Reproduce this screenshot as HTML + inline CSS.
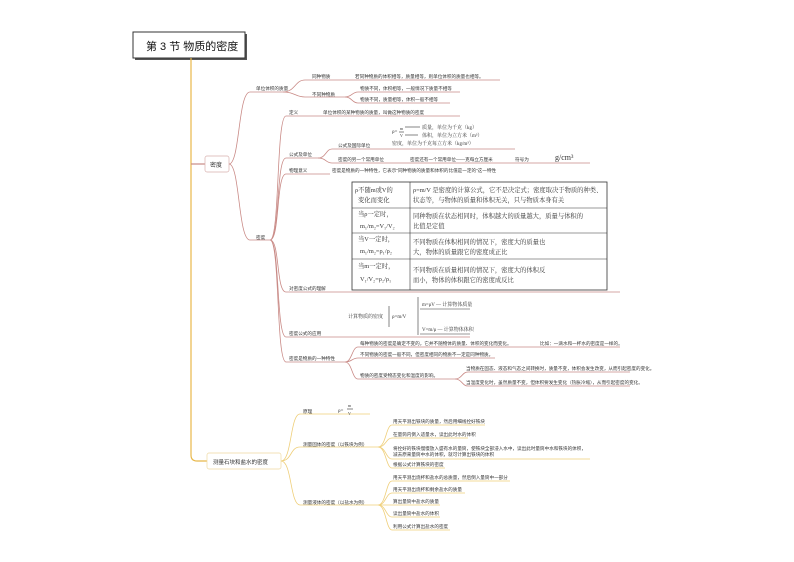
<!DOCTYPE html>
<html><head><meta charset="utf-8"><style>
html,body{margin:0;padding:0;background:#fff;}
svg{display:block;font-family:"Liberation Sans","Noto Sans CJK SC",sans-serif;}
.t{font-size:4.6px;fill:#333;}
.s{font-size:5px;fill:#333;}
.r{stroke:#c98a86;fill:none;stroke-width:0.8;}
.y{stroke:#efcf7a;fill:none;stroke-width:0.8;}
.k{stroke:#333;fill:none;stroke-width:0.6;}
.h{font-family:"Liberation Serif","Noto Serif CJK SC",serif;font-size:5px;fill:#333;}
.g{font-family:"Liberation Serif","Noto Serif CJK SC",serif;font-size:6.3px;fill:#333;}
</style></head><body>
<svg width="794" height="562" viewBox="0 0 794 562">
<rect x="135" y="34" width="112" height="26" fill="#555"/>
<rect x="133" y="32" width="112" height="26" fill="#fff" stroke="#333" stroke-width="1"/>
<text x="146" y="50" style="font-size:11px;fill:#111">第 3 节 物质的密度</text>
<path d="M191 58 V455 Q191 461 197 461 H207" stroke="#e8b84a" stroke-width="1.2" fill="none"/>
<path d="M191 164 H205" stroke="#c98a86" stroke-width="1.2"/>
<rect x="205" y="156" width="24" height="16" rx="2" fill="#fff" stroke="#d8b0ae" stroke-width="0.7"/>
<text x="210" y="167" class="s" style="font-size:6px">密度</text>
<path class="r" d="M229 164 C240 164,238 92,250 92 H283"/>
<path class="r" d="M229 164 C240 164,238 240,250 240 H270"/>
<text x="256" y="90" class="t">单位体积的质量</text>
<text x="256" y="239" class="t">密度</text>
<path class="r" d="M283 92 C295 92,295 80,305 80 H345"/>
<path class="r" d="M283 92 C295 92,295 97,305 97 H345"/>
<text x="312" y="78" class="t">同种物质</text>
<text x="312" y="96" class="t">不同种物质</text>
<path class="r" d="M345 80 H500"/>
<text x="355" y="78" class="t">若同种物质的体积相等，质量相等，则单位体积的质量也相等。</text>
<path class="r" d="M345 97 C352 97,352 92,358 92 H460"/>
<path class="r" d="M345 97 C352 97,352 103,358 103 H450"/>
<text x="360" y="90" class="t">物质不同，体积相等，一般情况下质量不相等</text>
<text x="360" y="101" class="t">物质不同，质量相等，体积一般不相等</text>
<path class="r" d="M270 240 C280 240,276 116,286 116 H320"/>
<path class="r" d="M270 240 C280 240,276 158,286 158 H318"/>
<path class="r" d="M270 240 C280 240,276 174,286 174 H330"/>
<path class="r" d="M270 240 C280 240,276 292,286 292 H620"/>
<path class="r" d="M270 240 C280 240,276 337,286 337 H470"/>
<path class="r" d="M270 240 C280 240,276 362,286 362 H345"/>
<text x="289" y="114" class="t">定义</text>
<path class="r" d="M320 116 H460"/>
<text x="323" y="114" class="t">单位体积的某种物质的质量，叫做这种物质的密度</text>
<text x="289" y="156" class="t">公式及单位</text>
<path class="r" d="M318 158 C326 158,326 149,332 149 H515"/>
<path class="r" d="M318 158 C326 158,326 163,332 163 H590"/>
<text x="338" y="147" class="t">公式及国际单位</text>
<text x="338" y="161" class="t">密度的另一个常用单位</text>
<text x="410" y="161" class="t">密度还有一个常用单位——克每立方厘米</text>
<text x="515" y="161" class="t">符号为</text>
<text x="555" y="160" class="h" style="font-size:8px">g/cm³</text>
<text x="392" y="133" class="h">ρ=</text>
<text x="400" y="130" class="h" style="font-size:4px">m</text>
<line x1="399" y1="132" x2="404" y2="132" class="k"/>
<text x="400" y="137" class="h" style="font-size:4px">V</text>
<line x1="405" y1="127" x2="420" y2="127" class="k"/>
<line x1="405" y1="135" x2="418" y2="135" class="k"/>
<text x="422" y="129" class="h">质量，单位为千克（kg）</text>
<text x="422" y="137" class="h">体积，单位为立方米（m³）</text>
<text x="392" y="145" class="h">密度，单位为千克每立方米（kg/m³）</text>
<text x="289" y="172" class="t">物理意义</text>
<text x="332" y="172" class="t">密度是物质的一种特性，它表示"同种物质的质量和体积的比值是一定的"这一特性</text>
<rect x="352" y="182" width="255" height="108" fill="#fff" stroke="#333" stroke-width="0.8"/>
<line x1="352" y1="208" x2="607" y2="208" class="k"/>
<line x1="352" y1="233" x2="607" y2="233" class="k"/>
<line x1="352" y1="259" x2="607" y2="259" class="k"/>
<line x1="410" y1="182" x2="410" y2="290" class="k"/>
<text x="355" y="192" class="g">ρ不随m或V的</text><text x="358" y="202" class="g">变化而变化</text>
<text x="413" y="192" class="g">ρ=m/V 是密度的计算公式，它不是决定式；密度取决于物质的种类、</text>
<text x="413" y="202" class="g">状态等，与物体的质量和体积无关，只与物质本身有关</text>
<text x="358" y="216" class="g">当ρ一定时，</text><text x="360" y="228" class="g">m₁/m₂=V₁/V₂</text>
<text x="413" y="218" class="g">同种物质在状态相同时，体积越大的质量越大，质量与体积的</text>
<text x="413" y="228" class="g">比值是定值</text>
<text x="358" y="241" class="g">当V一定时，</text><text x="360" y="253" class="g">m₁/m₂=ρ₁/ρ₂</text>
<text x="413" y="244" class="g">不同物质在体积相同的情况下，密度大的质量也</text>
<text x="413" y="254" class="g">大，物体的质量跟它的密度成正比</text>
<text x="358" y="268" class="g">当m一定时，</text><text x="360" y="281" class="g">V₁/V₂=ρ₂/ρ₁</text>
<text x="413" y="272" class="g">不同物质在质量相同的情况下，密度大的体积反</text>
<text x="413" y="282" class="g">而小，物体的体积跟它的密度成反比</text>
<text x="289" y="290" class="t">对密度公式的理解</text>
<text x="289" y="335" class="t">密度公式的应用</text>
<text x="348" y="318" class="h">计算物质的密度</text>
<line x1="389" y1="306" x2="389" y2="327" class="k" stroke="#6ab"/>
<text x="392" y="318" class="h">ρ=m/V</text>
<line x1="418" y1="297" x2="418" y2="335" class="k" stroke="#6ab"/>
<text x="422" y="306" class="h">m=ρV — 计算物体质量</text>
<text x="422" y="331" class="h">V=m/ρ — 计算物体体积</text>
<line x1="420" y1="309" x2="470" y2="309" class="k" stroke="#ccc"/>
<line x1="420" y1="334" x2="470" y2="334" class="k" stroke="#ccc"/>
<text x="289" y="360" class="t">密度是物质的一种特性</text>
<path class="r" d="M345 362 C352 362,352 347,358 347 H620"/>
<path class="r" d="M345 362 C352 362,352 358,358 358 H495"/>
<path class="r" d="M345 362 C352 362,352 379,358 379 H455"/>
<text x="360" y="345" class="t">每种物质的密度是确定不变的，它并不随物体的质量、体积的变化而变化。</text>
<text x="540" y="345" class="t">比如：一滴水和一杯水的密度是一样的。</text>
<text x="360" y="356" class="t">不同物质的密度一般不同，但密度相同的物质不一定是同种物质。</text>
<text x="360" y="377" class="t">物质的密度受物态变化和温度的影响。</text>
<path class="r" d="M455 379 C462 379,462 372,468 372 H630"/>
<path class="r" d="M455 379 C462 379,462 386,468 386 H630"/>
<text x="466" y="370" class="t">当物质在固态、液态和气态之间转换时，质量不变，体积会发生改变，从而引起密度的变化。</text>
<text x="466" y="384" class="t">当温度变化时，虽然质量不变，但体积要发生变化（热胀冷缩），从而引起密度的变化。</text>
<rect x="207" y="453" width="74" height="16" rx="2" fill="#fff" stroke="#efd9a0" stroke-width="0.7"/>
<text x="213" y="464" class="s" style="font-size:5.5px">测量石块和盐水的密度</text>
<path class="y" d="M281 461 C292 461,290 414,300 414 H370"/>
<path class="y" d="M281 461 C292 461,290 447,300 447 H378"/>
<path class="y" d="M281 461 C292 461,290 505,300 505 H378"/>
<text x="303" y="413" class="t">原理</text>
<text x="338" y="412" class="h">ρ=</text>
<text x="348" y="407" class="h" style="font-size:4px">m</text>
<line x1="347" y1="409" x2="353" y2="409" class="k"/>
<text x="348" y="415" class="h" style="font-size:4px">V</text>
<text x="303" y="446" class="t">测量固体的密度（以铁块为例）</text>
<text x="303" y="504" class="t">测量液体的密度（以盐水为例）</text>
<path class="y" d="M378 447 C386 447,386 425,392 425 H485"/>
<path class="y" d="M378 447 C386 447,386 438,392 438 H468"/>
<path class="y" d="M378 447 C386 447,386 459,392 459 H590"/>
<path class="y" d="M378 447 C386 447,386 468,392 468 H445"/>
<text x="393" y="423" class="t">用天平测出铁块的质量，然后用细线拴好铁块</text>
<text x="393" y="436" class="t">在量筒内倒入适量水，读出此时水的体积</text>
<text x="393" y="450" class="t">将拴好的铁块慢慢放入盛有水的量筒，使铁块全部浸入水中，读出此时量筒中水和铁块的体积，</text>
<text x="393" y="456" class="t">减去原来量筒中水的体积，就可计算出铁块的体积</text>
<text x="393" y="466" class="t">根据公式计算铁块的密度</text>
<path class="y" d="M378 505 C386 505,386 481,392 481 H510"/>
<path class="y" d="M378 505 C386 505,386 493,392 493 H465"/>
<path class="y" d="M378 505 C386 505,386 505,392 505 H440"/>
<path class="y" d="M378 505 C386 505,386 517,392 517 H440"/>
<path class="y" d="M378 505 C386 505,386 530,392 530 H450"/>
<text x="393" y="479" class="t">用天平测出烧杯和盐水的总质量，然后倒入量筒中一部分</text>
<text x="393" y="491" class="t">用天平测出烧杯和剩余盐水的质量</text>
<text x="393" y="503" class="t">算出量筒中盐水的质量</text>
<text x="393" y="515" class="t">读出量筒中盐水的体积</text>
<text x="393" y="528" class="t">利用公式计算出盐水的密度</text>
</svg>
</body></html>
